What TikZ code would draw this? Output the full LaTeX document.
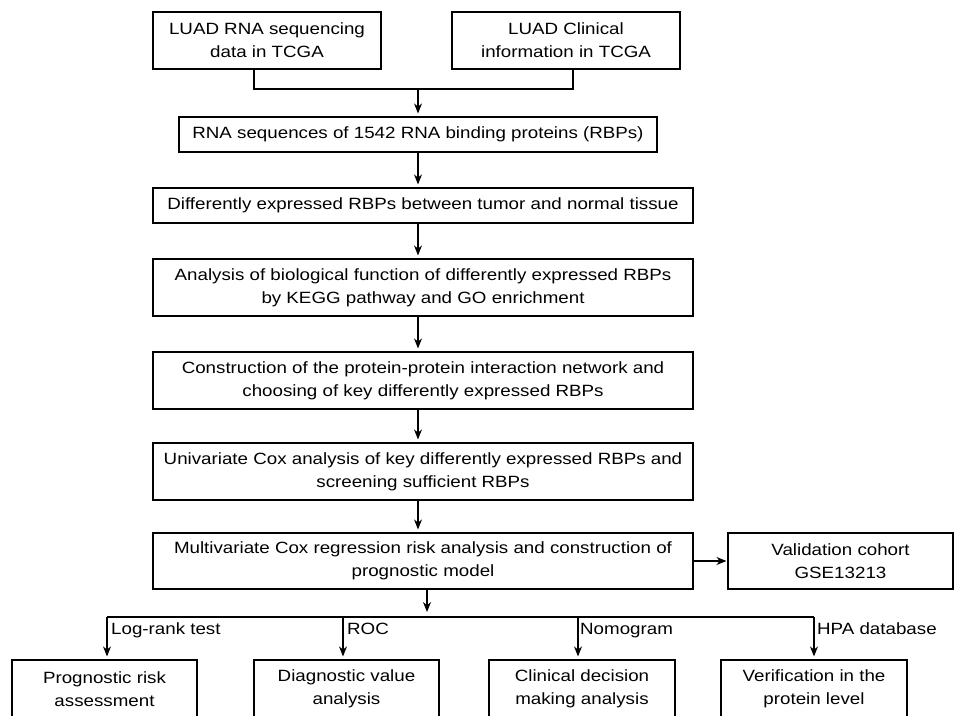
\documentclass[tikz,border=0pt]{standalone}
\usepackage{fontspec}
\setmainfont{Liberation Sans}[FakeStretch=1.15]
\usetikzlibrary{arrows.meta}
\tikzset{
    box/.style={draw, line width=1.2pt, align=center, inner sep=0pt, font=\fontsize{16.3}{23}\selectfont},
    arr/.style={line width=1.2pt, -{Stealth[length=10pt,width=8pt]}, shorten >=3pt},
    lbl/.style={inner sep=0pt, anchor=base west, font=\fontsize{16.3}{23}\selectfont},
}
\begin{document}
\begin{tikzpicture}[x=1pt,y=-1pt]
    \useasboundingbox (0,0) rectangle (955,715);
    \clip (0,0) rectangle (955,715);

    \node[box, minimum width=228pt, minimum height=57pt] (luad1) at (267,40.5) {LUAD RNA sequencing\\data in TCGA};
    \node[box, minimum width=228pt, minimum height=57pt] (luad2) at (566,40.5) {LUAD Clinical\\information in TCGA};
    \node[box, minimum width=478pt, minimum height=35pt] (seq) at (418,134.5) {RNA sequences of 1542 RNA binding proteins (RBPs)};
    \node[box, minimum width=540pt, minimum height=35pt] (deg) at (423,205.5) {Differently expressed RBPs between tumor and normal tissue};
    \node[box, minimum width=540pt, minimum height=57pt] (func) at (423,287.5) {Analysis of biological function of differently expressed RBPs\\by KEGG pathway and GO enrichment};
    \node[box, minimum width=540pt, minimum height=57pt] (ppi) at (423,380.5) {Construction of the protein-protein interaction network and\\choosing of key differently expressed RBPs};
    \node[box, minimum width=540pt, minimum height=57pt] (unicox) at (423,471.5) {Univariate Cox analysis of key differently expressed RBPs and\\screening sufficient RBPs};
    \node[box, minimum width=540pt, minimum height=56pt] (multicox) at (423,561) {Multivariate Cox regression risk analysis and construction of\\prognostic model};
    \node[box, minimum width=225pt, minimum height=56pt] (valid) at (840.5,561) {Validation cohort\\GSE13213};

    \node[box, minimum width=185pt, minimum height=58pt] (prog) at (104.5,689) {Prognostic risk\\assessment};
    \node[box, minimum width=185pt, minimum height=58pt] (diag) at (346.5,689) {Diagnostic value\\analysis};
    \node[box, minimum width=186pt, minimum height=58pt] (clin) at (582,689) {Clinical decision\\making analysis};
    \node[box, minimum width=186pt, minimum height=58pt] (verif) at (814,689) {Verification in the\\protein level};

    \coordinate (mleft) at (254,89);
    \coordinate (mright) at (573,89);
    \coordinate (mid) at (418,89);
    \coordinate (spine) at (418,0);
    \coordinate (fork) at (427,617);
    \coordinate (br1) at (107,617);
    \coordinate (br2) at (343,617);
    \coordinate (br3) at (578,617);
    \coordinate (br4) at (814,617);

    \draw[line width=1.2pt] (luad1.south -| mleft) -- (mleft) -- (mright) -- (luad2.south -| mright);
    \draw[arr] (mid) -- (seq.north -| mid);
    \draw[arr] (seq.south -| spine) -- (deg.north -| spine);
    \draw[arr] (deg.south -| spine) -- (func.north -| spine);
    \draw[arr] (func.south -| spine) -- (ppi.north -| spine);
    \draw[arr] (ppi.south -| spine) -- (unicox.north -| spine);
    \draw[arr] (unicox.south -| spine) -- (multicox.north -| spine);
    \draw[arr, shorten >=1pt] (multicox.east) -- (valid.west);

    \draw[arr, shorten >=5pt] (multicox.south -| fork) -- (fork);
    \draw[line width=1.2pt] (br1) -- (br4);
    \draw[arr] (br1) -- (prog.north -| br1);
    \draw[arr] (br2) -- (diag.north -| br2);
    \draw[arr] (br3) -- (clin.north -| br3);
    \draw[arr] (br4) -- (verif.north -| br4);

    \node[lbl] (logrank) at (111,634) {Log-rank test};
    \node[lbl] (roc) at (347,634) {ROC};
    \node[lbl] (nomo) at (580,634) {Nomogram};
    \node[lbl] (hpa) at (817,634) {HPA database};
\end{tikzpicture}
\end{document}
